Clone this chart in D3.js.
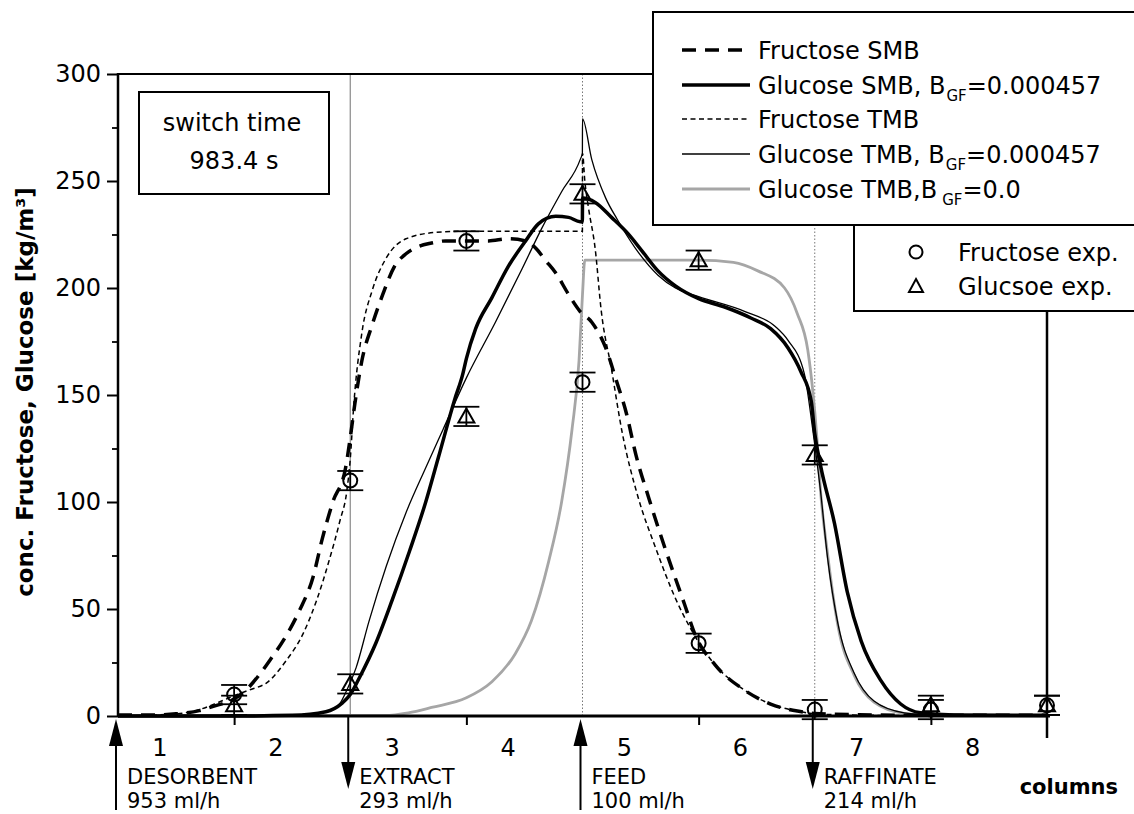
<!DOCTYPE html>
<html>
<head>
<meta charset="utf-8">
<script src="https://cdn.jsdelivr.net/npm/d3@7"></script>
<style>
	body { margin: 0; background: #fff; }
	text { font-family: "DejaVu Sans", sans-serif; fill: #000; }
</style>
</head>
<body>
<svg id="chart" width="1134" height="814"></svg>
<script>
// values: x in columns (0..8), y in kg/m3
var yTicks = [0, 50, 100, 150, 200, 250, 300];
var yMinorTicks = [25, 75, 125, 175, 225, 275];
var xTicks = [1, 3, 5, 7];
var columnLabels = ["1", "2", "3", "4", "5", "6", "7", "8"];

var fructoseSmb = [[0, 0.5], [0.3, 0.5], [0.5, 1], [0.7, 2.5], [0.82, 4.5], [1.0, 8], [1.1, 12], [1.22, 19.5],
	[1.32, 27], [1.42, 35], [1.56, 49], [1.68, 65], [1.76, 83], [1.85, 100], [1.96, 116], [2.0, 130], [2.04, 146],
	[2.1, 166], [2.19, 183], [2.28, 197], [2.38, 210], [2.48, 216], [2.57, 219], [2.7, 221], [2.82, 222], [3.0, 222],
	[3.19, 222], [3.36, 223], [3.51, 222], [3.6, 218.5], [3.68, 213], [3.77, 207], [3.88, 197], [3.98, 189],
	[4.08, 184], [4.2, 172], [4.29, 157], [4.38, 141], [4.46, 122], [4.57, 102], [4.71, 78.5], [4.88, 52],
	[4.97, 38], [5.14, 24], [5.37, 13], [5.62, 5.6], [5.85, 2.3], [6.0, 1.2], [6.5, 0.5], [7, 0.3], [8, 0.3]];

var glucoseSmb = [[0, 0], [1.0, 0], [1.5, 0.3], [1.79, 2], [1.93, 6], [2.0, 10], [2.08, 18], [2.22, 34], [2.36, 54],
	[2.51, 77], [2.65, 100], [2.76, 121], [2.9, 148], [2.97, 160], [3.0, 167], [3.08, 181], [3.22, 195.5],
	[3.36, 210], [3.51, 222], [3.62, 230], [3.77, 233.5], [3.88, 233], [3.98, 231], [3.999, 231], [4.0, 242],
	[4.11, 240], [4.25, 233], [4.39, 225.5], [4.51, 217.5], [4.65, 208], [4.8, 201], [5.0, 195], [5.23, 191],
	[5.45, 186], [5.62, 181], [5.77, 172], [5.88, 161], [5.97, 147], [6.0, 132], [6.05, 117], [6.17, 90],
	[6.28, 58], [6.4, 35], [6.57, 16.5], [6.74, 5.6], [6.91, 1.5], [7.2, 0.5], [8, 0.3]];

var fructoseTmb = [[0, 0], [0.5, 1], [0.7, 3], [0.85, 6], [1.02, 10], [1.15, 12.5], [1.28, 15.5], [1.45, 26],
	[1.59, 38], [1.71, 54], [1.82, 73], [1.91, 91], [1.97, 105], [2.0, 120], [2.03, 145], [2.1, 179], [2.19, 199],
	[2.31, 214], [2.48, 223], [2.74, 226], [2.97, 226.5], [3.5, 226.5], [3.999, 226.5], [4.0, 263], [4.02, 250],
	[4.05, 238], [4.11, 218], [4.16, 190], [4.25, 162], [4.34, 133], [4.48, 102], [4.63, 78.5], [4.8, 55],
	[4.94, 40], [5.14, 24], [5.37, 13], [5.62, 5.6], [5.85, 2.3], [6.0, 1], [6.5, 0.3], [8, 0]];

var glucoseTmb = [[0, 0], [1.5, 0.3], [1.8, 2], [1.9, 5], [1.97, 12], [2.05, 22.5], [2.16, 44], [2.31, 70],
	[2.48, 95], [2.65, 116], [2.8, 134], [3.0, 158], [3.25, 184], [3.48, 209], [3.65, 228], [3.82, 245],
	[3.98, 260], [3.999, 263], [4.0, 279], [4.08, 260], [4.2, 242], [4.3, 232], [4.45, 219], [4.65, 206],
	[4.8, 200], [5.0, 196], [5.4, 189], [5.66, 182], [5.77, 175.5], [5.91, 160], [5.98, 135], [6.05, 105],
	[6.11, 74], [6.2, 43], [6.34, 20], [6.51, 7], [6.77, 1.5], [7, 0.5], [8, 0]];

var glucoseTmbZero = [[0, 0], [2.3, 0.3], [2.5, 1.5], [2.7, 4], [3.0, 8.5], [3.22, 16], [3.42, 29], [3.56, 44.5],
	[3.71, 72.5], [3.82, 100], [3.91, 134], [3.97, 166], [4.0, 197], [4.02, 213], [4.5, 213], [5.0, 213],
	[5.3, 212], [5.51, 208], [5.74, 200], [5.85, 188], [5.94, 171], [5.98, 153.5], [6.02, 129], [6.05, 105],
	[6.11, 76], [6.2, 42], [6.34, 19], [6.51, 6.5], [6.77, 1.2], [7, 0.3], [8, 0]];

var expColumns = [1, 2, 3, 4, 5, 6, 7, 8];
var fructoseExp = [10, 110, 222, 156, 34, 3, 3, 5];
var glucoseExp = [5, 15, 140, 244, 213, 122, 5, 5];
var expError = [4.5, 4.5, 4.5, 4.5, 4.5, 4.5, 4.5, 4.5];

var portColumns = [0, 2, 4, 6];
var portNames = ["DESORBENT", "EXTRACT", "FEED", "RAFFINATE"];
var portFlows = ["953 ml/h", "293 ml/h", "100 ml/h", "214 ml/h"];
var portInflow = [true, false, true, false];

var legendNames = [["Fructose SMB"], ["Glucose SMB, B", "GF", "=0.000457"], ["Fructose TMB"],
	["Glucose TMB, B", "GF", "=0.000457"], ["Glucose TMB,B", "GF", "=0.0"]];

var series = [fructoseSmb, glucoseSmb, fructoseTmb, glucoseTmb, glucoseTmbZero];
var seriesStyle = [
	{ color: "#000", width: 3.5, dash: "14,9" },
	{ color: "#000", width: 3.5, dash: null },
	{ color: "#000", width: 1.5, dash: "5,3.5" },
	{ color: "#000", width: 1.3, dash: null },
	{ color: "#a6a6a6", width: 2.8, dash: null }
];

var svg = d3.select("#chart");
var x = d3.scaleLinear().domain([0, 8]).range([118, 1047]);
var y = d3.scaleLinear().domain([0, 300]).range([716, 74]);

function drawGrid() {
	svg.append("line").attr("x1", x(2)).attr("x2", x(2)).attr("y1", y(300)).attr("y2", y(0))
		.attr("stroke", "#888").attr("stroke-width", 1.2);
	svg.selectAll("line.port-grid").data([4, 6]).enter().append("line")
		.attr("class", "port-grid")
		.attr("x1", function(d) { return x(d); })
		.attr("x2", function(d) { return x(d); })
		.attr("y1", y(300)).attr("y2", y(0))
		.attr("stroke", "#777").attr("stroke-width", 1)
		.attr("stroke-dasharray", "1.5,2");
}

function drawCurves() {
	var line = d3.line()
		.x(function(d) { return x(d[0]); })
		.y(function(d) { return y(d[1]); })
		.curve(d3.curveMonotoneX);
	var order = [4, 2, 3, 0, 1];
	for (var ii = 0; ii < order.length; ++ii) {
		var st = seriesStyle[order[ii]];
		svg.append("path").datum(series[order[ii]])
			.attr("d", line)
			.attr("fill", "none")
			.attr("stroke", st.color)
			.attr("stroke-width", st.width)
			.attr("stroke-dasharray", st.dash);
	}
}

function drawExperiments() {
	var pts = [];
	for (var ii = 0; ii < expColumns.length; ++ii) {
		pts.push({ c: expColumns[ii], v: fructoseExp[ii], e: expError[ii], kind: "circle" });
		pts.push({ c: expColumns[ii], v: glucoseExp[ii], e: expError[ii], kind: "triangle" });
	}
	var bars = svg.selectAll("g.err").data(pts).enter().append("g").attr("class", "err")
		.attr("stroke", "#000").attr("stroke-width", 1.8);
	bars.append("line")
		.attr("x1", function(d) { return x(d.c); }).attr("x2", function(d) { return x(d.c); })
		.attr("y1", function(d) { return y(d.v - d.e); }).attr("y2", function(d) { return y(d.v + d.e); });
	bars.append("line")
		.attr("x1", function(d) { return x(d.c) - 13; }).attr("x2", function(d) { return x(d.c) + 13; })
		.attr("y1", function(d) { return y(d.v - d.e); }).attr("y2", function(d) { return y(d.v - d.e); });
	bars.append("line")
		.attr("x1", function(d) { return x(d.c) - 13; }).attr("x2", function(d) { return x(d.c) + 13; })
		.attr("y1", function(d) { return y(d.v + d.e); }).attr("y2", function(d) { return y(d.v + d.e); });

	svg.selectAll("circle.fru").data(pts.filter(function(d) { return d.kind == "circle"; }))
		.enter().append("circle").attr("class", "fru")
		.attr("cx", function(d) { return x(d.c); })
		.attr("cy", function(d) { return y(d.v); })
		.attr("r", 7)
		.attr("fill", "none").attr("stroke", "#000").attr("stroke-width", 2);
	svg.selectAll("path.glu").data(pts.filter(function(d) { return d.kind == "triangle"; }))
		.enter().append("path").attr("class", "glu")
		.attr("d", function(d) {
			var cx = x(d.c), cy = y(d.v);
			return "M" + cx + "," + (cy - 8) + "L" + (cx + 8) + "," + (cy + 6) + "L" + (cx - 8) + "," + (cy + 6) + "Z";
		})
		.attr("fill", "none").attr("stroke", "#000").attr("stroke-width", 2);
}

function drawAxes() {
	var yAxis = svg.append("g").attr("transform", "translate(" + x(0) + ",0)")
		.call(d3.axisLeft(y).tickValues(yTicks).tickSize(11).tickPadding(6));
	yAxis.select(".domain").remove();
	yAxis.selectAll(".tick line").attr("stroke-width", 2);
	yAxis.selectAll(".tick text").attr("font-size", 24).attr("font-family", "DejaVu Sans").attr("fill", "#000");
	var yMinor = svg.append("g").attr("transform", "translate(" + x(0) + ",0)")
		.call(d3.axisLeft(y).tickValues(yMinorTicks).tickSize(6).tickFormat(""));
	yMinor.select(".domain").remove();
	yMinor.selectAll(".tick line").attr("stroke-width", 1.8);

	var xAxis = svg.append("g").attr("transform", "translate(0," + y(0) + ")")
		.call(d3.axisBottom(x).tickValues(xTicks).tickSize(9).tickFormat(""));
	xAxis.select(".domain").remove();
	xAxis.selectAll(".tick line").attr("stroke-width", 2);

	// frame
	svg.append("line").attr("x1", x(0)).attr("x2", x(0)).attr("y1", y(300) - 1).attr("y2", y(0) + 1)
		.attr("stroke", "#000").attr("stroke-width", 2.5);
	svg.append("line").attr("x1", x(0)).attr("x2", x(8)).attr("y1", y(300)).attr("y2", y(300))
		.attr("stroke", "#000").attr("stroke-width", 2);
	svg.append("line").attr("x1", x(0)).attr("x2", x(8) + 3).attr("y1", y(0)).attr("y2", y(0))
		.attr("stroke", "#000").attr("stroke-width", 3);
	svg.append("line").attr("x1", x(8)).attr("x2", x(8)).attr("y1", y(300)).attr("y2", y(0) + 22)
		.attr("stroke", "#000").attr("stroke-width", 2.5);

	svg.append("text")
		.attr("transform", "translate(33," + 392 + ") rotate(-90)")
		.attr("text-anchor", "middle")
		.attr("font-size", 23).attr("font-weight", "bold")
		.text("conc. Fructose, Glucose [kg/m³]");

	svg.selectAll("text.col").data(columnLabels).enter().append("text")
		.attr("class", "col")
		.attr("x", function(d, i) { return x(i + 0.36); })
		.attr("y", 756)
		.attr("text-anchor", "middle")
		.attr("font-size", 24)
		.text(function(d) { return d; });

	svg.append("text").attr("x", 1118).attr("y", 794).attr("text-anchor", "end")
		.attr("font-size", 21).attr("font-weight", "bold").text("columns");
}

function drawPorts() {
	for (var ii = 0; ii < portColumns.length; ++ii) {
		var px = x(portColumns[ii]) - 2;
		var g = svg.append("g");
		if (portInflow[ii]) {
			g.append("line").attr("x1", px).attr("x2", px).attr("y1", 810).attr("y2", 740)
				.attr("stroke", "#000").attr("stroke-width", 2);
			g.append("path").attr("d", "M" + px + ",719L" + (px + 7) + ",746L" + (px - 7) + ",746Z").attr("fill", "#000");
		} else {
			g.append("line").attr("x1", px).attr("x2", px).attr("y1", y(0)).attr("y2", 770)
				.attr("stroke", "#000").attr("stroke-width", 2);
			g.append("path").attr("d", "M" + px + ",789L" + (px + 7) + ",762L" + (px - 7) + ",762Z").attr("fill", "#000");
		}
		g.append("text").attr("x", px + 11).attr("y", 784).attr("font-size", 21).text(portNames[ii]);
		g.append("text").attr("x", px + 11).attr("y", 808).attr("font-size", 21).text(portFlows[ii]);
	}
}

function drawSwitchBox() {
	svg.append("rect").attr("x", 139).attr("y", 92).attr("width", 190).attr("height", 102)
		.attr("fill", "#fff").attr("stroke", "#000").attr("stroke-width", 2);
	svg.append("text").attr("x", 232).attr("y", 131).attr("text-anchor", "middle").attr("font-size", 24).text("switch time");
	svg.append("text").attr("x", 234).attr("y", 169).attr("text-anchor", "middle").attr("font-size", 24).text("983.4 s");
}

function drawLegend() {
	svg.append("rect").attr("x", 854).attr("y", 224).attr("width", 300).attr("height", 87)
		.attr("fill", "#fff").attr("stroke", "#000").attr("stroke-width", 2);
	svg.append("rect").attr("x", 653).attr("y", 12).attr("width", 500).attr("height", 213)
		.attr("fill", "#fff").attr("stroke", "#000").attr("stroke-width", 2);
	var rowY = [50, 85, 119, 154, 189];
	for (var ii = 0; ii < legendNames.length; ++ii) {
		var st = seriesStyle[ii];
		svg.append("line").attr("x1", 682).attr("x2", 750).attr("y1", rowY[ii]).attr("y2", rowY[ii])
			.attr("stroke", st.color).attr("stroke-width", st.width).attr("stroke-dasharray", st.dash);
		var t = svg.append("text").attr("x", 758).attr("y", rowY[ii] + 8.5).attr("font-size", 24);
		var parts = legendNames[ii];
		t.append("tspan").text(parts[0]);
		if (parts.length > 1) {
			t.append("tspan").attr("font-size", 15).attr("dy", 7).attr("dx", ii == 4 ? 5 : 1).text(parts[1]);
			t.append("tspan").attr("dy", -7).text(parts[2]);
		}
	}
	svg.append("circle").attr("cx", 916).attr("cy", 252).attr("r", 6.5)
		.attr("fill", "none").attr("stroke", "#000").attr("stroke-width", 2);
	svg.append("path").attr("d", "M916,279L923,292L909,292Z")
		.attr("fill", "none").attr("stroke", "#000").attr("stroke-width", 2);
	svg.append("text").attr("x", 958).attr("y", 261).attr("font-size", 24).text("Fructose exp.");
	svg.append("text").attr("x", 958).attr("y", 295).attr("font-size", 24).text("Glucsoe exp.");
}

drawGrid();
drawCurves();
drawExperiments();
drawAxes();
drawPorts();
drawSwitchBox();
drawLegend();
</script>
</body>
</html>
